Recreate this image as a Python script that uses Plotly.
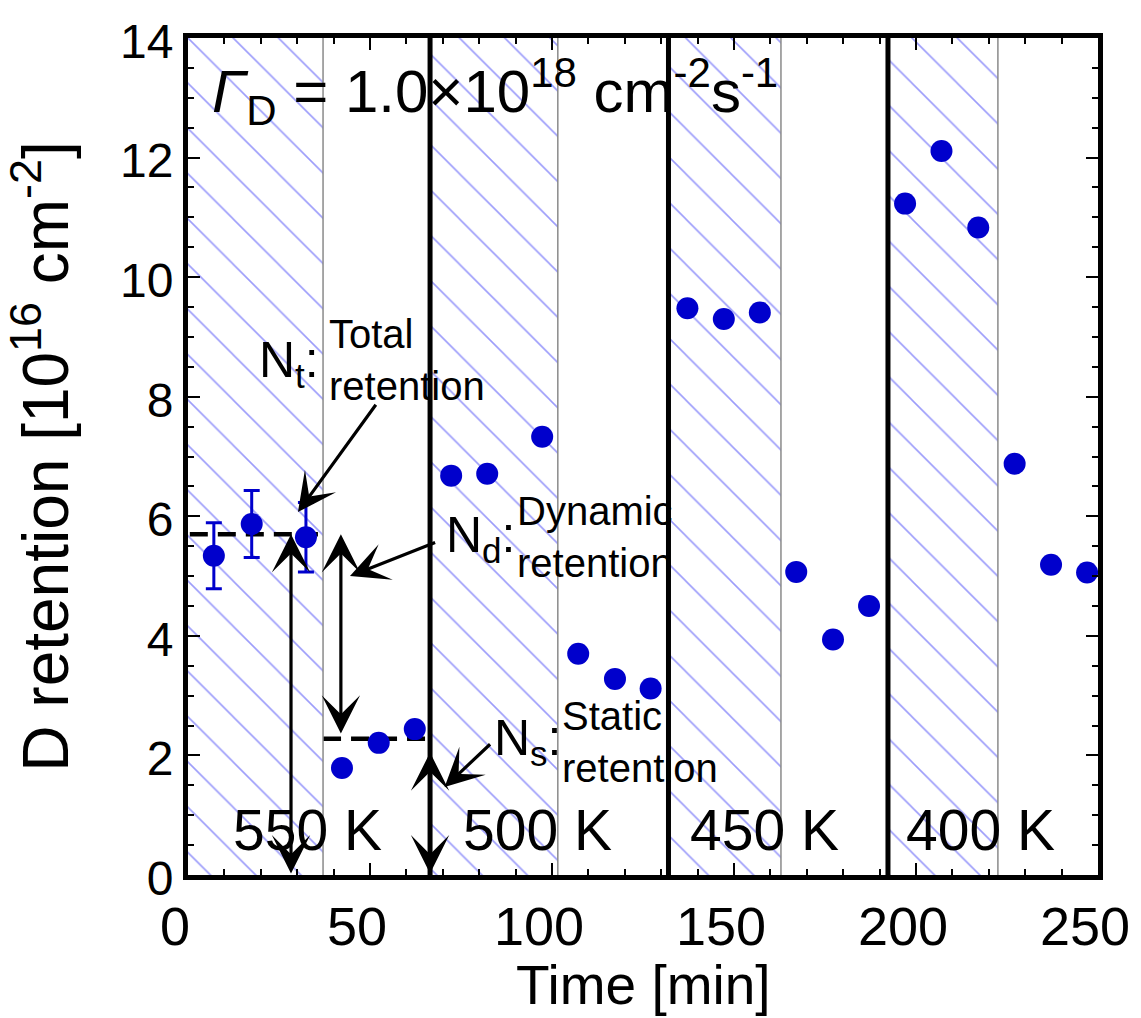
import plotly.graph_objects as go

# Measured D retention vs. time
time_min = [7.1, 17.5, 32.4, 42.3, 52.4, 62.3, 72.3, 82.2, 97.3, 107.2, 117.3, 127.1,
            137.2, 147.2, 157.1, 167.1, 177.2, 187.1, 197.0, 207.0, 217.1, 227.1, 237.1, 247.0]
retention = [5.34, 5.87, 5.65, 1.79, 2.21, 2.44, 6.68, 6.71, 7.33, 3.70, 3.28, 3.12,
             9.48, 9.30, 9.41, 5.07, 3.94, 4.50, 11.23, 12.11, 10.83, 6.88, 5.19, 5.06]
# error bars on the first three points
err_n = 3
retention_err = [0.55, 0.56, 0.58]

# temperature blocks: start of each block and end of the plasma-exposure part
block_start = [0.0, 66.5, 132.0, 192.3]
exposure_end = [37.1, 101.6, 162.9, 222.5]
temp_labels = ["550 K", "500 K", "450 K", "400 K"]
temp_label_x = [32.7, 96.0, 158.3, 217.6]

# retention levels used for the definitions
n_total = 5.70
n_static = 2.28

x_range = [0, 250]
y_range = [0, 14]

FONT = "Liberation Sans, Arial, sans-serif"
BLUE = "#0000cc"

fig = go.Figure()

# hatched exposure periods
fig.add_trace(go.Bar(
    x=[(s + e) / 2 for s, e in zip(block_start, exposure_end)],
    y=[y_range[1]] * len(block_start),
    width=[e - s for s, e in zip(block_start, exposure_end)],
    base=0,
    marker=dict(color="rgba(0,0,0,0)", line=dict(width=0),
                pattern=dict(shape="\\", fgcolor="#3a3af5", bgcolor="rgba(0,0,0,0)",
                             size=32, solidity=0.05)),
    hoverinfo="skip", showlegend=False,
))

# thin gray line at the end of each exposure
for xe in exposure_end:
    fig.add_shape(type="line", xref="x", yref="paper", x0=xe, x1=xe, y0=0, y1=1,
                  line=dict(color="#8a8a8a", width=1.5), layer="above")
# thick black line at each temperature change
for xs in block_start[1:]:
    fig.add_shape(type="line", xref="x", yref="paper", x0=xs, x1=xs, y0=0, y1=1,
                  line=dict(color="black", width=5), layer="above")

# dashed reference levels
fig.add_trace(go.Scatter(x=[0.5, 35.7], y=[n_total, n_total], mode="lines",
                         line=dict(color="black", width=4.5, dash="18px,10px"),
                         hoverinfo="skip", showlegend=False))
fig.add_trace(go.Scatter(x=[exposure_end[0], block_start[1]], y=[n_static, n_static], mode="lines",
                         line=dict(color="black", width=4.5, dash="18px,10px"),
                         hoverinfo="skip", showlegend=False))

# data points
fig.add_trace(go.Scatter(
    x=time_min[:err_n], y=retention[:err_n], mode="markers",
    marker=dict(color=BLUE, size=22),
    error_y=dict(type="data", array=retention_err, color=BLUE, thickness=3, width=8),
    showlegend=False))
fig.add_trace(go.Scatter(
    x=time_min[err_n:], y=retention[err_n:], mode="markers",
    marker=dict(color=BLUE, size=22), showlegend=False))

annotations = []

# temperature labels
for lab, lx in zip(temp_labels, temp_label_x):
    annotations.append(dict(x=lx, y=0.75, xref="x", yref="y", text=lab, showarrow=False,
                            font=dict(family=FONT, size=57, color="black"),
                            xanchor="center", yanchor="middle"))

# flux label
annotations.append(dict(
    x=6.0, y=13.1, xref="x", yref="y", xanchor="left", yanchor="middle", showarrow=False,
    text="<i>Γ</i><sub>D</sub> = 1.0×10<sup>18</sup> cm<sup>-2</sup>s<sup>-1</sup>",
    font=dict(family=FONT, size=60, color="black")))

# N_t, N_d, N_s labels
big = dict(family=FONT, size=50, color="black")
small = dict(family=FONT, size=40, color="black")
for sym, sx, sy, desc, dx, dy in [
    ("N<sub>t</sub>:", 19.0, 8.55, "Total<br>retention", 38.2, 8.61),
    ("N<sub>d</sub>:", 70.3, 5.63, "Dynamic<br>retention", 89.9, 5.65),
    ("N<sub>s</sub>:", 83.5, 2.23, "Static<br>retention", 102.2, 2.22),
]:
    annotations.append(dict(x=sx, y=sy, xref="x", yref="y", text=sym, showarrow=False,
                            xanchor="left", yanchor="middle", font=big))
    annotations.append(dict(x=dx, y=dy, xref="x", yref="y", text=desc, showarrow=False,
                            xanchor="left", yanchor="middle", align="left", font=small))

# pointer arrows (tip at x,y ; tail at ax,ay)
for tip, tail in [((30.2, 6.07), (51.9, 7.89)),
                  ((44.5, 5.00), (68.3, 5.57)),
                  ((70.5, 1.47), (83.4, 2.21))]:
    annotations.append(dict(x=tip[0], y=tip[1], ax=tail[0], ay=tail[1],
                            xref="x", yref="y", axref="x", ayref="y", text="",
                            showarrow=True, arrowhead=3, arrowsize=2.0, arrowwidth=3.2,
                            arrowcolor="black"))

# double-headed arrows for the retention amounts
for ax_x, y_lo, y_hi in [(28.3, 0.0, n_total), (42.0, 2.34, n_total), (block_start[1], 0.0, 2.05)]:
    annotations.append(dict(x=ax_x, y=y_hi, ax=ax_x, ay=y_lo,
                            xref="x", yref="y", axref="x", ayref="y", text="",
                            showarrow=True, arrowhead=3, startarrowhead=3, arrowside="end+start",
                            arrowsize=2.0, startarrowsize=2.0, arrowwidth=3.2,
                            arrowcolor="black"))

# x-axis title, set just below the tick labels
annotations.append(dict(x=0.5, y=-0.1705, xref="paper", yref="paper",
                        xanchor="center", yanchor="bottom", showarrow=False,
                        text="Time [min]", font=dict(family=FONT, size=55, color="black")))

fig.update_layout(
    width=1141, height=1018,
    margin=dict(l=188, r=43, t=38, b=143, autoexpand=False),
    paper_bgcolor="white", plot_bgcolor="white",
    annotations=annotations,
    bargap=0, barmode="overlay",
    font=dict(family=FONT, color="black"),
)

fig.update_xaxes(
    range=x_range, showgrid=False, zeroline=False, automargin=False,
    showline=True, linecolor="black", linewidth=5, mirror="ticks",
    ticks="inside", ticklen=12, tickwidth=2, tickcolor="black",
    tick0=0, dtick=50,
    minor=dict(ticks="inside", ticklen=6, tickwidth=1.5, tickcolor="black", dtick=10, showgrid=False),
    tickfont=dict(family=FONT, size=54, color="black"),
    ticklabelshift=-13, ticklabeloverflow="allow", ticklabelstandoff=0,
)
fig.update_yaxes(
    range=y_range, showgrid=False, zeroline=False, automargin=False,
    showline=True, linecolor="black", linewidth=5, mirror="ticks",
    ticks="inside", ticklen=12, tickwidth=2, tickcolor="black",
    tick0=0, dtick=2,
    minor=dict(ticks="inside", ticklen=6, tickwidth=1.5, tickcolor="black", dtick=0.5, showgrid=False),
    tickfont=dict(family=FONT, size=48, color="black"),
    ticklabelshift=3,
    title=dict(text="D retention [10<sup>16</sup> cm<sup>-2</sup>]",
               font=dict(family=FONT, size=64, color="black"), standoff=32),
)

fig.write_html("out.html")
